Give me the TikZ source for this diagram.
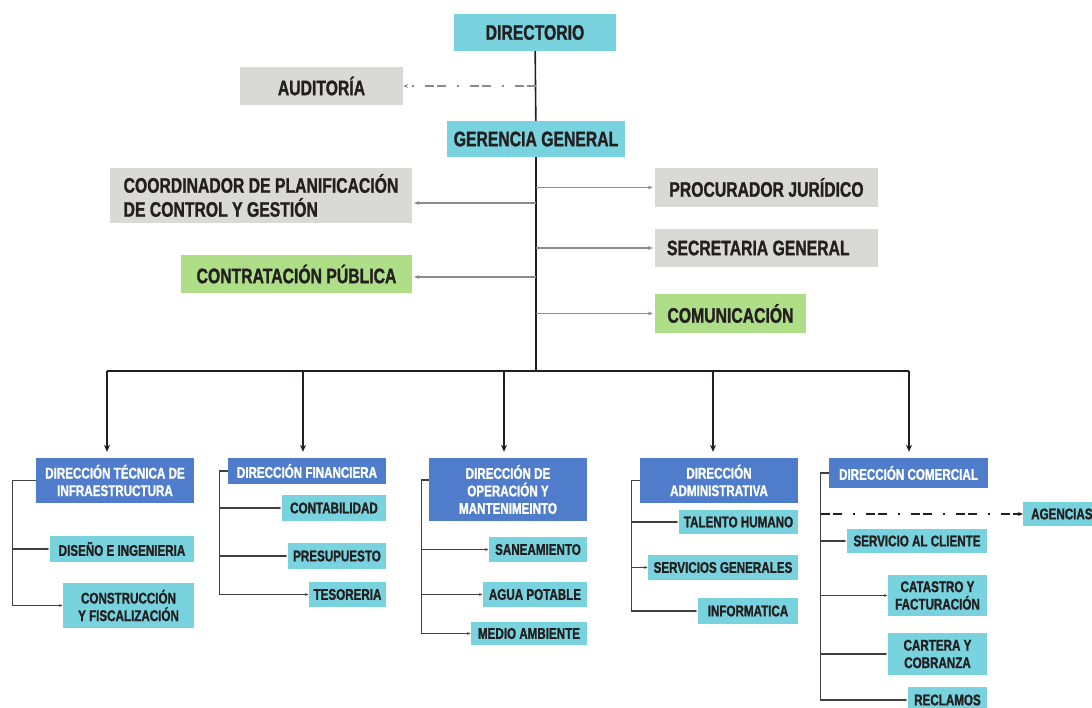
\documentclass[tikz,border=0pt]{standalone}
\usepackage{fontspec}
\setmainfont{Liberation Sans}[FakeStretch=0.75, BoldFeatures={FakeBold=1.2}]
\usetikzlibrary{arrows.meta}

\definecolor{cyanfill}{HTML}{78D3DE}
\definecolor{grayfill}{HTML}{D9DAD8}
\definecolor{greenfill}{HTML}{AEDF88}
\definecolor{bluefill}{HTML}{4F7DCB}
\definecolor{txt}{HTML}{231F20}
\definecolor{linegray}{HTML}{8C8C8C}

\tikzset{
  box/.style={rectangle, inner sep=0pt, text=txt, align=center},
  dims/.style 2 args={minimum width=#1pt, minimum height=#2pt},
  big/.style={font=\bfseries\fontsize{21}{24}\selectfont},
  small/.style={font=\bfseries\fontsize{15.5}{17.5}\selectfont},
  cyanbox/.style={box, fill=cyanfill},
  graybox/.style={box, fill=grayfill},
  greenbox/.style={box, fill=greenfill},
  bluebox/.style={box, fill=bluefill, text=white},
  trunk/.style={line width=1.6pt, txt},
  bus/.style={line width=2.2pt, txt},
  drop/.style={line width=1.5pt, txt, -{Stealth[length=7pt,width=6pt]}, shorten >=6pt},
  side/.style={line width=1.8pt, linegray, -{Stealth[length=5pt,width=4pt]}, shorten >=2pt},
  spine/.style={line width=1.2pt, black!75, -{Latex[length=3.5pt,width=3pt]}},
  dashline/.style={line width=1.6pt, dash pattern=on 9pt off 3pt on 9pt off 11pt on 2pt off 11pt,
    -{Stealth[length=5pt,width=4pt]}}
}

\begin{document}
\begin{tikzpicture}[x=1pt, y=-1pt]
\useasboundingbox (0,0) rectangle (1092,707);
\fill[white] (0,0) rectangle (1092,707);
\clip (0,0) rectangle (1092,707);

% upper level
\node[cyanbox, big, dims={162}{37}] (dir) at (535,32.5) {DIRECTORIO};
\node[graybox, big, dims={163}{38}] (aud) at (321.5,86) {AUDITORÍA};
\node[cyanbox, big, dims={178}{36}] (ger) at (536,139) {GERENCIA GENERAL};
\node[graybox, big, dims={302}{55}, align=left] (coord) at (261,195.5)
  {COORDINADOR DE PLANIFICACIÓN\\DE CONTROL Y GESTIÓN};
\node[greenbox, big, dims={231}{38}] (contr) at (296.5,274) {CONTRATACIÓN PÚBLICA};
\node[graybox, big, dims={223}{39}] (proc) at (766.5,187.5) {PROCURADOR JURÍDICO};
\node[graybox, big, dims={223}{38}] (secr) at (766.5,248)
  {\makebox[199pt][l]{SECRETARIA GENERAL}};
\node[greenbox, big, dims={151}{39}] (comu) at (730.5,313.5) {COMUNICACIÓN};

% direcciones
\node[bluebox, small, dims={158}{45}] (dtec) at (115,480.5) {DIRECCIÓN TÉCNICA DE\\INFRAESTRUCTURA};
\node[bluebox, small, dims={158}{26}] (dfin) at (307,471) {DIRECCIÓN FINANCIERA};
\node[bluebox, small, dims={158}{63}] (dope) at (508,489.5) {DIRECCIÓN DE\\OPERACIÓN Y\\MANTENIMEINTO};
\node[bluebox, small, dims={158}{45}] (dadm) at (719,480.5) {DIRECCIÓN\\ADMINISTRATIVA};
\node[bluebox, small, dims={159}{30}] (dcom) at (908.5,473) {DIRECCIÓN COMERCIAL};

% departamentos
\node[cyanbox, small, dims={144}{26}] (dis) at (122,549) {DISEÑO E INGENIERIA};
\node[cyanbox, small, dims={131}{45}] (cons) at (128.5,605.5) {CONSTRUCCIÓN\\Y FISCALIZACIÓN};
\node[cyanbox, small, dims={104}{26}] (cont) at (334,508) {CONTABILIDAD};
\node[cyanbox, small, dims={98}{26}] (pres) at (337,556) {PRESUPUESTO};
\node[cyanbox, small, dims={77}{25}] (teso) at (347.5,594.5) {TESORERIA};
\node[cyanbox, small, dims={98}{25}] (sane) at (538,549.5) {SANEAMIENTO};
\node[cyanbox, small, dims={104}{25}] (agua) at (535,594.5) {AGUA POTABLE};
\node[cyanbox, small, dims={116}{23}] (medio) at (529,633.5) {MEDIO AMBIENTE};
\node[cyanbox, small, dims={119}{24}] (tal) at (738.5,522) {TALENTO HUMANO};
\node[cyanbox, small, dims={150}{25}] (serv) at (723,567.5) {SERVICIOS GENERALES};
\node[cyanbox, small, dims={100}{26}] (info) at (748,611) {INFORMATICA};
\node[cyanbox, small, minimum height=24pt, inner xsep=8pt, anchor=west] (agen) at (1023,514) {AGENCIAS};
\node[cyanbox, small, dims={140}{24}] (serc) at (917,541) {SERVICIO AL CLIENTE};
\node[cyanbox, small, dims={99}{41}] (cat) at (937.5,595.5) {CATASTRO Y\\FACTURACIÓN};
\node[cyanbox, small, dims={99}{42}] (car) at (937.5,654) {CARTERA Y\\COBRANZA};
\node[cyanbox, small, dims={79}{26}] (rec) at (947.5,700) {RECLAMOS};

% trunk and bus
\coordinate (bm) at (536,371);
\coordinate (b1) at (107,371);
\coordinate (b2) at (303,371);
\coordinate (b3) at (504,371);
\coordinate (b4) at (713,371);
\coordinate (b5) at (909,371);
\draw[trunk] (dir) -- (ger);
\draw[trunk] (ger.south) -- (bm);
\draw[bus] (b1) -- (b5);
\foreach \b/\n in {b1/dtec, b2/dfin, b3/dope, b4/dadm, b5/dcom}
  \draw[drop] (\b) -- (\b |- \n.north);

% staff units
\coordinate (coordin) at ([yshift=-7.5pt]coord.east);
\coordinate (contrin) at ([yshift=-3pt]contr.east);
\draw[dashline, linegray] (ger.north |- aud.east) -- (aud.east);
\draw[side] (ger.south |- coordin) -- (coordin);
\draw[side] (ger.south |- contrin) -- (contrin);
\foreach \n in {proc, secr, comu}
  \draw[side] (ger.south |- \n.west) -- (\n.west);

% spines
\coordinate (s1) at ([xshift=-23pt]dtec.west);
\coordinate (s2) at ([xshift=-8pt]dfin.west);
\coordinate (s3) at ([xshift=-7pt,yshift=9.5pt]dope.west);
\coordinate (s4) at ([xshift=-8pt]dadm.west);
\coordinate (s5) at ([xshift=-8pt]dcom.west);
\foreach \c in {dis, cons}
  \draw[spine] (s1 -| dtec.west) -- (s1) |- (\c.west);
\foreach \c in {cont, pres, teso}
  \draw[spine] (s2 -| dfin.west) -- (s2) |- (\c.west);
\foreach \c in {sane, agua, medio}
  \draw[spine] (s3 -| dope.west) -- (s3) |- (\c.west);
\foreach \c in {tal, serv, info}
  \draw[spine] (s4 -| dadm.west) -- (s4) |- (\c.west);
\foreach \c in {serc, cat, car, rec}
  \draw[spine] (s5 -| dcom.west) -- (s5) |- (\c.west);
\draw[dashline, txt] (s5 |- agen.west) -- (agen.west);
\end{tikzpicture}
\end{document}
